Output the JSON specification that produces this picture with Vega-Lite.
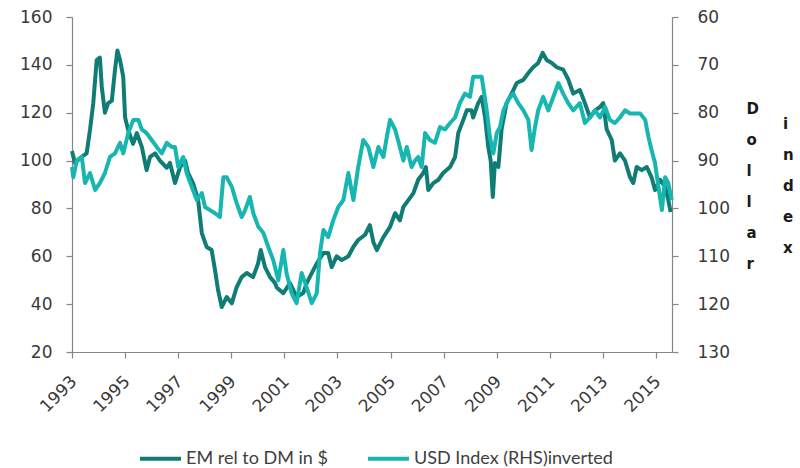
{
  "$schema": "https://vega.github.io/schema/vega-lite/v6.json",
  "width": 600,
  "height": 335,
  "autosize": {"type": "none"},
  "padding": {"left": 72, "top": 17, "right": 128, "bottom": 116},
  "background": "white",
  "config": {
    "view": {"stroke": null},
    "axis": {
      "grid": false,
      "domainColor": "#868686",
      "tickColor": "#868686",
      "domainWidth": 1.2,
      "tickWidth": 1.2,
      "labelColor": "#3a3a3a",
      "labelFont": "DejaVu Sans",
      "labelFontSize": 17,
      "tickSize": 6
    }
  },
  "datasets": {
    "em": [
      {"year": 1993.00, "value": 104}, {"year": 1993.11, "value": 99}, {"year": 1993.3, "value": 101}, {"year": 1993.55, "value": 103}, {"year": 1993.68, "value": 113}, {"year": 1993.80, "value": 124}, {"year": 1993.93, "value": 142}, {"year": 1994.05, "value": 143}, {"year": 1994.12, "value": 131}, {"year": 1994.24, "value": 120}, {"year": 1994.36, "value": 124}, {"year": 1994.50, "value": 125}, {"year": 1994.62, "value": 138}, {"year": 1994.71, "value": 146}, {"year": 1994.81, "value": 142}, {"year": 1994.93, "value": 135}, {"year": 1995.00, "value": 118}, {"year": 1995.11, "value": 113}, {"year": 1995.30, "value": 107}, {"year": 1995.44, "value": 111.5}, {"year": 1995.63, "value": 105.7}, {"year": 1995.81, "value": 96}, {"year": 1995.94, "value": 101.5}, {"year": 1996.13, "value": 103}, {"year": 1996.31, "value": 100}, {"year": 1996.57, "value": 97}, {"year": 1996.69, "value": 99}, {"year": 1996.88, "value": 90.6}, {"year": 1997.07, "value": 97.3}, {"year": 1997.26, "value": 100}, {"year": 1997.37, "value": 94.8}, {"year": 1997.56, "value": 90.6}, {"year": 1997.75, "value": 83.5}, {"year": 1997.89, "value": 69.7}, {"year": 1998.07, "value": 63.9}, {"year": 1998.26, "value": 62.6}, {"year": 1998.39, "value": 54}, {"year": 1998.50, "value": 46}, {"year": 1998.64, "value": 38.8}, {"year": 1998.83, "value": 43}, {"year": 1999.02, "value": 40.4}, {"year": 1999.20, "value": 47}, {"year": 1999.39, "value": 51.3}, {"year": 1999.58, "value": 53}, {"year": 1999.82, "value": 51.3}, {"year": 2000.01, "value": 57}, {"year": 2000.11, "value": 62.6}, {"year": 2000.27, "value": 55.5}, {"year": 2000.46, "value": 51.3}, {"year": 2000.65, "value": 48.8}, {"year": 2000.71, "value": 47}, {"year": 2000.96, "value": 44.6}, {"year": 2001.21, "value": 48.8}, {"year": 2001.46, "value": 43}, {"year": 2001.71, "value": 44.6}, {"year": 2001.84, "value": 48.8}, {"year": 2002.03, "value": 53}, {"year": 2002.22, "value": 57}, {"year": 2002.47, "value": 61.4}, {"year": 2002.65, "value": 61.4}, {"year": 2002.78, "value": 55.5}, {"year": 2002.97, "value": 60}, {"year": 2003.16, "value": 58.4}, {"year": 2003.41, "value": 60}, {"year": 2003.60, "value": 64}, {"year": 2003.78, "value": 66.8}, {"year": 2004.04, "value": 69}, {"year": 2004.22, "value": 73}, {"year": 2004.35, "value": 66}, {"year": 2004.48, "value": 62.6}, {"year": 2004.73, "value": 68}, {"year": 2004.98, "value": 72.3}, {"year": 2005.17, "value": 78}, {"year": 2005.35, "value": 75}, {"year": 2005.48, "value": 80.6}, {"year": 2005.67, "value": 83.5}, {"year": 2005.86, "value": 86.4}, {"year": 2006.04, "value": 92}, {"year": 2006.23, "value": 94.8}, {"year": 2006.33, "value": 97.3}, {"year": 2006.42, "value": 87.7}, {"year": 2006.61, "value": 90.6}, {"year": 2006.80, "value": 92}, {"year": 2006.98, "value": 94.8}, {"year": 2007.24, "value": 97.3}, {"year": 2007.43, "value": 101.5}, {"year": 2007.55, "value": 111.5}, {"year": 2007.74, "value": 117}, {"year": 2007.87, "value": 121}, {"year": 2008.05, "value": 121}, {"year": 2008.11, "value": 118}, {"year": 2008.30, "value": 124}, {"year": 2008.43, "value": 126.6}, {"year": 2008.56, "value": 118}, {"year": 2008.68, "value": 105.7}, {"year": 2008.77, "value": 100}, {"year": 2008.85, "value": 84.8}, {"year": 2008.93, "value": 99}, {"year": 2009.06, "value": 97.3}, {"year": 2009.18, "value": 113}, {"year": 2009.37, "value": 124}, {"year": 2009.56, "value": 128}, {"year": 2009.75, "value": 132.4}, {"year": 2010.00, "value": 133.7}, {"year": 2010.19, "value": 136.6}, {"year": 2010.37, "value": 139}, {"year": 2010.56, "value": 140.8}, {"year": 2010.73, "value": 145}, {"year": 2010.88, "value": 142}, {"year": 2011.07, "value": 140.8}, {"year": 2011.26, "value": 139}, {"year": 2011.50, "value": 138}, {"year": 2011.69, "value": 134}, {"year": 2011.88, "value": 128}, {"year": 2012.13, "value": 129.5}, {"year": 2012.32, "value": 124}, {"year": 2012.51, "value": 118}, {"year": 2012.70, "value": 121}, {"year": 2012.89, "value": 122.4}, {"year": 2013.01, "value": 124}, {"year": 2013.14, "value": 113}, {"year": 2013.33, "value": 108.6}, {"year": 2013.45, "value": 100}, {"year": 2013.64, "value": 103}, {"year": 2013.83, "value": 100}, {"year": 2014.02, "value": 93}, {"year": 2014.14, "value": 90.6}, {"year": 2014.27, "value": 97.3}, {"year": 2014.46, "value": 96}, {"year": 2014.65, "value": 97.3}, {"year": 2014.83, "value": 93}, {"year": 2014.96, "value": 87.7}, {"year": 2015.15, "value": 92}, {"year": 2015.34, "value": 89}, {"year": 2015.46, "value": 83.5}, {"year": 2015.55, "value": 78.5}
    ],
    "usd": [
      {"year": 1993.00, "value": 91.35}, {"year": 1993.05, "value": 93.5}, {"year": 1993.18, "value": 90}, {"year": 1993.37, "value": 89.25}, {"year": 1993.49, "value": 94.7}, {"year": 1993.68, "value": 92.6}, {"year": 1993.87, "value": 96.15}, {"year": 1994.05, "value": 94.7}, {"year": 1994.24, "value": 92.6}, {"year": 1994.43, "value": 89.25}, {"year": 1994.62, "value": 88.5}, {"year": 1994.81, "value": 86.3}, {"year": 1994.93, "value": 88.5}, {"year": 1995.12, "value": 84.25}, {"year": 1995.31, "value": 81.5}, {"year": 1995.50, "value": 81.5}, {"year": 1995.63, "value": 83.5}, {"year": 1995.81, "value": 84.25}, {"year": 1996.00, "value": 85.7}, {"year": 1996.19, "value": 87.15}, {"year": 1996.38, "value": 88.5}, {"year": 1996.57, "value": 86.3}, {"year": 1996.76, "value": 87.15}, {"year": 1996.88, "value": 87.15}, {"year": 1997.00, "value": 91.35}, {"year": 1997.19, "value": 89.25}, {"year": 1997.32, "value": 92.6}, {"year": 1997.51, "value": 95.5}, {"year": 1997.70, "value": 98.25}, {"year": 1997.89, "value": 96.8}, {"year": 1998.01, "value": 99.7}, {"year": 1998.20, "value": 100.35}, {"year": 1998.39, "value": 101}, {"year": 1998.57, "value": 101.8}, {"year": 1998.70, "value": 93.5}, {"year": 1998.83, "value": 93.5}, {"year": 1999.02, "value": 95.5}, {"year": 1999.20, "value": 98.85}, {"year": 1999.39, "value": 101.8}, {"year": 1999.52, "value": 100.35}, {"year": 1999.70, "value": 97.6}, {"year": 1999.83, "value": 101}, {"year": 2000.02, "value": 103.85}, {"year": 2000.21, "value": 105.15}, {"year": 2000.39, "value": 108}, {"year": 2000.58, "value": 110.8}, {"year": 2000.77, "value": 115}, {"year": 2000.96, "value": 108.7}, {"year": 2001.08, "value": 113.5}, {"year": 2001.27, "value": 117.7}, {"year": 2001.46, "value": 119.8}, {"year": 2001.65, "value": 113.5}, {"year": 2001.84, "value": 116.5}, {"year": 2002.03, "value": 119.8}, {"year": 2002.22, "value": 117.7}, {"year": 2002.34, "value": 109.3}, {"year": 2002.47, "value": 104.5}, {"year": 2002.65, "value": 106}, {"year": 2002.84, "value": 102.5}, {"year": 2003.03, "value": 99.7}, {"year": 2003.22, "value": 98.25}, {"year": 2003.41, "value": 92.6}, {"year": 2003.60, "value": 98.25}, {"year": 2003.78, "value": 91.35}, {"year": 2003.97, "value": 85.7}, {"year": 2004.16, "value": 87.15}, {"year": 2004.29, "value": 90}, {"year": 2004.35, "value": 91.35}, {"year": 2004.54, "value": 87.15}, {"year": 2004.73, "value": 89.25}, {"year": 2004.86, "value": 85}, {"year": 2004.98, "value": 81.5}, {"year": 2005.17, "value": 83.5}, {"year": 2005.35, "value": 87.15}, {"year": 2005.48, "value": 90}, {"year": 2005.61, "value": 87.15}, {"year": 2005.79, "value": 91.35}, {"year": 2005.92, "value": 90}, {"year": 2006.04, "value": 89.25}, {"year": 2006.17, "value": 91.35}, {"year": 2006.30, "value": 84.25}, {"year": 2006.48, "value": 85.7}, {"year": 2006.67, "value": 86.3}, {"year": 2006.86, "value": 83}, {"year": 2007.05, "value": 83.5}, {"year": 2007.24, "value": 82.15}, {"year": 2007.43, "value": 81}, {"year": 2007.61, "value": 78}, {"year": 2007.80, "value": 76}, {"year": 2007.99, "value": 76.7}, {"year": 2008.11, "value": 72.5}, {"year": 2008.30, "value": 72.5}, {"year": 2008.43, "value": 72.5}, {"year": 2008.49, "value": 74.65}, {"year": 2008.62, "value": 79.5}, {"year": 2008.74, "value": 85}, {"year": 2008.87, "value": 88.5}, {"year": 2009.00, "value": 84.25}, {"year": 2009.12, "value": 83}, {"year": 2009.25, "value": 79.5}, {"year": 2009.43, "value": 77.35}, {"year": 2009.62, "value": 76}, {"year": 2009.81, "value": 78}, {"year": 2010.00, "value": 79.5}, {"year": 2010.19, "value": 81.5}, {"year": 2010.31, "value": 87.8}, {"year": 2010.44, "value": 83}, {"year": 2010.56, "value": 79.5}, {"year": 2010.75, "value": 76.7}, {"year": 2010.94, "value": 79.5}, {"year": 2011.13, "value": 76.7}, {"year": 2011.32, "value": 73.8}, {"year": 2011.50, "value": 76}, {"year": 2011.69, "value": 78}, {"year": 2011.88, "value": 79.5}, {"year": 2012.13, "value": 78}, {"year": 2012.32, "value": 82.15}, {"year": 2012.51, "value": 81}, {"year": 2012.70, "value": 79.5}, {"year": 2012.89, "value": 81}, {"year": 2013.08, "value": 78.8}, {"year": 2013.26, "value": 81.5}, {"year": 2013.45, "value": 82.15}, {"year": 2013.64, "value": 81}, {"year": 2013.83, "value": 79.5}, {"year": 2014.02, "value": 80.15}, {"year": 2014.21, "value": 80.15}, {"year": 2014.40, "value": 80.15}, {"year": 2014.59, "value": 81.5}, {"year": 2014.71, "value": 85}, {"year": 2014.83, "value": 87.8}, {"year": 2014.96, "value": 90.5}, {"year": 2015.09, "value": 95.5}, {"year": 2015.22, "value": 100.35}, {"year": 2015.34, "value": 93.5}, {"year": 2015.46, "value": 94.7}, {"year": 2015.59, "value": 98.25}
    ]
  },
  "layer": [
    {
      "data": {"name": "em"},
      "mark": {"type": "line", "strokeWidth": 4, "strokeJoin": "round"},
      "encoding": {
        "x": {
          "field": "year", "type": "quantitative",
          "scale": {"domain": [1993, 2015.6], "nice": false, "zero": false},
          "axis": {"title": null, "values": [1993, 1995, 1997, 1999, 2001, 2003, 2005, 2007, 2009, 2011, 2013, 2015], "format": "d", "labelAngle": -45, "labelPadding": 15, "labelOffset": -4}
        },
        "y": {
          "field": "value", "type": "quantitative",
          "scale": {"domain": [20, 160], "nice": false, "zero": false},
          "axis": {"orient": "left", "title": null, "values": [20, 40, 60, 80, 100, 120, 140, 160], "labelPadding": 14}
        },
        "color": {
          "datum": "EM rel to DM in $", "type": "nominal",
          "scale": {"domain": ["EM rel to DM in $", "USD Index (RHS)inverted"], "range": ["#0f7d75", "#17b6b0"]},
          "legend": {
            "title": null, "orient": "none", "direction": "horizontal",
            "legendX": 66, "legendY": 419,
            "symbolType": "stroke", "symbolSize": 1681, "symbolStrokeWidth": 4,
            "labelFont": "Lato", "labelFontSize": 18, "labelColor": "#404040", "labelLimit": 400,
            "labelOffset": 3, "columnPadding": 32
          }
        }
      }
    },
    {
      "data": {"name": "usd"},
      "mark": {"type": "line", "strokeWidth": 4, "strokeJoin": "round"},
      "encoding": {
        "x": {"field": "year", "type": "quantitative"},
        "y": {
          "field": "value", "type": "quantitative",
          "scale": {"domain": [60, 130], "reverse": true, "nice": false, "zero": false},
          "axis": {
            "orient": "right", "values": [60, 70, 80, 90, 100, 110, 120, 130], "labelPadding": 19,
            "title": ["D", "\u200b\u00a0\u00a0\u00a0\u00a0\u00a0\u00a0\u00a0i", "o", "\u200b\u00a0\u00a0\u00a0\u00a0\u00a0\u00a0\u00a0n", "l", "\u200b\u00a0\u00a0\u00a0\u00a0\u00a0\u00a0\u00a0d", "l", "\u200b\u00a0\u00a0\u00a0\u00a0\u00a0\u00a0\u00a0e", "a", "\u200b\u00a0\u00a0\u00a0\u00a0\u00a0\u00a0\u00a0x", "r"],
            "titleAngle": 0, "titleAlign": "left", "titleBaseline": "alphabetic",
            "titleX": 74, "titleY": 96, "titleLineHeight": 15.5,
            "titleFont": "DejaVu Sans", "titleFontSize": 15, "titleFontWeight": "bold", "titleColor": "#1a1a1a"
          }
        },
        "color": {"datum": "USD Index (RHS)inverted", "type": "nominal"}
      }
    }
  ],
  "resolve": {"scale": {"y": "independent"}}
}
